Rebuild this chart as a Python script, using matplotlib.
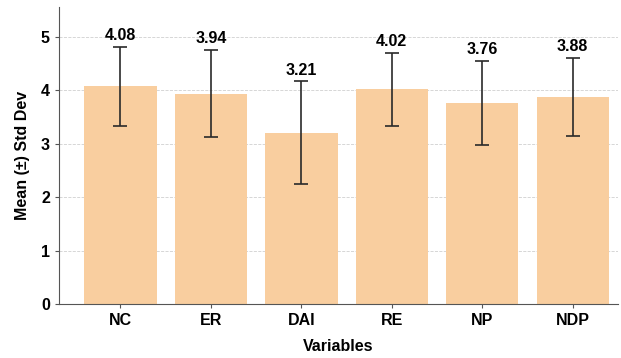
import matplotlib.pyplot as plt

variables = ["NC", "ER", "DAI", "RE", "NP", "NDP"]
means = [4.08, 3.94, 3.21, 4.02, 3.76, 3.88]
stds = [0.74, 0.82, 0.96, 0.69, 0.79, 0.73]

plt.rcParams["font.family"] = ["Liberation Sans", "DejaVu Sans"]

fig = plt.figure(figsize=(6.21, 3.58), dpi=100)
ax = fig.add_axes([0.095, 0.151, 0.90, 0.829])

x = range(len(variables))
ax.bar(x, means, width=0.8, color="#F9CE9F", zorder=2)
ax.errorbar(x, means, yerr=stds, fmt="none", ecolor="#2a2a2a",
            elinewidth=1.2, capsize=5, capthick=1.2, zorder=3)

for i, (m, s) in enumerate(zip(means, stds)):
    ax.text(i, m + s + 0.07, f"{m:.2f}", ha="center", va="bottom",
            fontsize=11.5, fontweight="bold")

ax.set_xlim(-0.68, 5.5)
ax.set_ylim(0, 5.56)
ax.set_xticks(list(x))
ax.set_xticklabels(variables, fontsize=11.5, fontweight="bold")
ax.set_yticks(range(6))
ax.set_yticklabels([str(v) for v in range(6)], fontsize=11.5, fontweight="bold")
ax.tick_params(length=3, color="#555555")

ax.yaxis.grid(True, linestyle="--", color="#d0d0d0", linewidth=0.6, zorder=0)
ax.set_axisbelow(True)
for side in ["top", "right"]:
    ax.spines[side].set_visible(False)
for side in ["left", "bottom"]:
    ax.spines[side].set_color("#555555")

ax.set_xlabel("Variables", fontsize=11.5, fontweight="bold", labelpad=8)
ax.set_ylabel("Mean (±) Std Dev", fontsize=11.5, fontweight="bold", labelpad=8)

plt.savefig("out.png", dpi=100)
plt.close()
